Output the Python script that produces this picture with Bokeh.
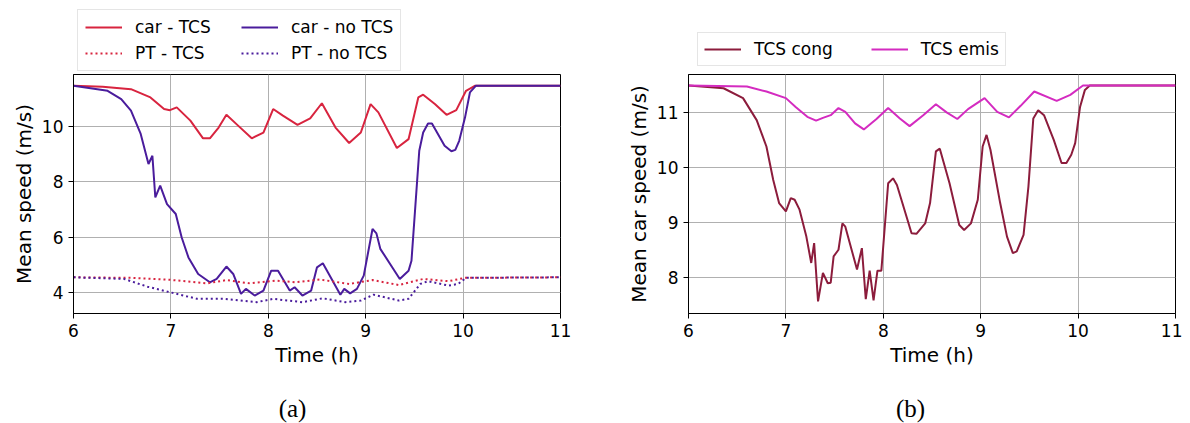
from bokeh.plotting import figure
from bokeh.models import Legend, LegendItem, Range1d, FixedTicker, Label
from bokeh.layouts import row, column
from bokeh.embed import file_html
from bokeh.resources import INLINE

# ---------------- data ----------------
car_tcs_t = [6.0, 6.3, 6.59, 6.79, 6.93, 6.99, 7.06, 7.20, 7.33, 7.40, 7.49, 7.57, 7.69, 7.83, 7.95,
             8.05, 8.15, 8.30, 8.43, 8.55, 8.69, 8.83, 8.95, 9.05, 9.13, 9.32, 9.44, 9.54, 9.59, 9.71,
             9.83, 9.93, 10.03, 10.12, 11.0]
car_tcs_v = [11.48, 11.45, 11.36, 11.06, 10.64, 10.6, 10.70, 10.22, 9.58, 9.58, 9.97, 10.43, 10.04, 9.58, 9.79,
             10.64, 10.40, 10.07, 10.30, 10.85, 9.97, 9.41, 9.79, 10.82, 10.52, 9.23, 9.55, 11.06, 11.16, 10.82,
             10.43, 10.60, 11.30, 11.48, 11.48]

car_notcs_t = [6.0, 6.35, 6.49, 6.59, 6.69, 6.77, 6.81, 6.84, 6.89, 6.96, 7.05, 7.11, 7.18, 7.28, 7.40,
               7.47, 7.57, 7.64, 7.72, 7.77, 7.86, 7.95, 8.03, 8.10, 8.22, 8.27, 8.35, 8.44, 8.50, 8.56,
               8.74, 8.78, 8.84, 8.91, 8.98, 9.07, 9.11, 9.15, 9.35, 9.44, 9.47, 9.55, 9.59, 9.64, 9.68,
               9.81, 9.88, 9.92, 9.96, 10.02, 10.07, 10.13, 11.0]
car_notcs_v = [11.48, 11.30, 11.0, 10.58, 9.74, 8.65, 8.95, 7.44, 7.87, 7.20, 6.84, 6.0, 5.27, 4.67, 4.37,
               4.49, 4.94, 4.67, 3.95, 4.13, 3.89, 4.07, 4.79, 4.79, 4.07, 4.19, 3.89, 4.07, 4.91, 5.06,
               3.92, 4.13, 3.97, 4.13, 4.61, 6.30, 6.14, 5.58, 4.49, 4.79, 5.15, 9.13, 9.79, 10.12, 10.12,
               9.31, 9.11, 9.16, 9.49, 10.34, 11.24, 11.48, 11.48]

pt_tcs_t = [6.0, 6.59, 6.99, 7.37, 7.57, 7.81, 8.08, 8.28, 8.53, 8.83, 9.07, 9.34, 9.59, 9.85, 10.02, 11.0]
pt_tcs_v = [4.55, 4.53, 4.46, 4.33, 4.45, 4.33, 4.43, 4.37, 4.47, 4.31, 4.45, 4.27, 4.49, 4.41, 4.53, 4.55]

pt_notcs_t = [6.0, 6.52, 6.76, 6.99, 7.27, 7.54, 7.88, 8.05, 8.35, 8.56, 8.79, 8.95, 9.08, 9.34, 9.44,
              9.56, 9.64, 9.85, 9.95, 10.03, 11.0]
pt_notcs_v = [4.55, 4.49, 4.21, 4.01, 3.77, 3.77, 3.65, 3.77, 3.65, 3.79, 3.65, 3.71, 3.92, 3.71, 3.77,
              4.31, 4.41, 4.25, 4.31, 4.53, 4.55]

cong_t = [6.0, 6.36, 6.56, 6.70, 6.80, 6.87, 6.93, 7.00, 7.05, 7.09, 7.14, 7.21, 7.26, 7.29, 7.33, 7.38,
          7.43, 7.46, 7.49, 7.54, 7.58, 7.61, 7.73, 7.78, 7.82, 7.86, 7.90, 7.94, 7.98, 8.05, 8.10, 8.14,
          8.29, 8.34, 8.43, 8.48, 8.54, 8.58, 8.68, 8.78, 8.83, 8.90, 8.97, 9.02, 9.06, 9.10, 9.20, 9.27,
          9.33, 9.37, 9.44, 9.49, 9.54, 9.59, 9.65, 9.75, 9.83, 9.88, 9.93, 9.97, 10.02, 10.07, 10.12, 11.0]
cong_v = [11.5, 11.45, 11.27, 10.87, 10.39, 9.78, 9.36, 9.21, 9.45, 9.42, 9.24, 8.75, 8.27, 8.63, 7.57, 8.09,
          7.90, 7.91, 8.39, 8.51, 8.99, 8.93, 8.15, 8.54, 7.61, 8.13, 7.59, 8.13, 8.13, 9.72, 9.81, 9.69,
          8.81, 8.80, 8.99, 9.36, 10.30, 10.35, 9.72, 8.96, 8.87, 8.99, 9.42, 10.39, 10.60, 10.33, 9.36, 8.75,
          8.45, 8.48, 8.78, 9.66, 10.90, 11.05, 10.96, 10.51, 10.09, 10.09, 10.24, 10.45, 11.11, 11.42, 11.5, 11.5]

emis_t = [6.0, 6.60, 6.80, 7.00, 7.10, 7.22, 7.31, 7.38, 7.46, 7.54, 7.61, 7.71, 7.80, 7.93, 8.05, 8.17,
          8.27, 8.41, 8.54, 8.65, 8.76, 8.87, 9.04, 9.17, 9.29, 9.41, 9.55, 9.78, 9.92, 10.05, 11.0]
emis_v = [11.5, 11.48, 11.39, 11.27, 11.11, 10.93, 10.86, 10.91, 10.96, 11.09, 11.02, 10.81, 10.70, 10.89,
          11.09, 10.90, 10.76, 10.96, 11.16, 11.01, 10.89, 11.07, 11.27, 11.02, 10.92, 11.13, 11.39, 11.22,
          11.33, 11.5, 11.5]

x_ticks = [6, 7, 8, 9, 10, 11]
left_y_ticks = [4, 6, 8, 10]
right_y_ticks = [8, 9, 10, 11]

labels_a = ["car - TCS", "PT - TCS", "car - no TCS", "PT - no TCS"]
labels_b = ["TCS cong", "TCS emis"]
captions = ["(a)", "(b)"]

# ---------------- styling ----------------
FONT = "DejaVu Sans"
RED = "#d8243f"
PURPLE = "#4a1c9c"
CONG = "#8c1c3c"
EMIS = "#d42bc0"
W_A, W_B = 592, 582


def style(p, yticks):
    p.xaxis.ticker = FixedTicker(ticks=x_ticks)
    p.yaxis.ticker = FixedTicker(ticks=yticks)
    for ax in (p.xaxis[0], p.yaxis[0]):
        ax.major_label_text_font = FONT
        ax.major_label_text_font_size = "17px"
        ax.major_label_text_color = "black"
        ax.axis_label_text_font = FONT
        ax.axis_label_text_font_size = "20px"
        ax.axis_label_text_font_style = "normal"
        ax.axis_label_text_color = "black"
        ax.axis_line_color = "black"
        ax.major_tick_line_color = "black"
        ax.major_tick_out = 5
        ax.major_tick_in = 0
        ax.minor_tick_line_color = None
        ax.major_label_standoff = 5
        ax.axis_label_standoff = 3
    p.grid.grid_line_color = "#b0b0b0"
    p.grid.grid_line_width = 1
    p.outline_line_color = "black"
    p.outline_line_width = 1
    p.background_fill_color = "white"
    p.border_fill_color = "white"


def bare(width, height):
    f = figure(width=width, height=height, x_range=Range1d(0, 1), y_range=Range1d(0, 1),
               x_axis_type=None, y_axis_type=None, output_backend="svg", toolbar_location=None,
               min_border=0, min_border_left=0, min_border_right=0, min_border_top=0, min_border_bottom=0)
    f.grid.visible = False
    f.outline_line_color = None
    f.background_fill_color = "white"
    f.border_fill_color = "white"
    return f


def style_legend(leg):
    leg.border_line_color = "#cccccc"
    leg.border_line_width = 1
    leg.background_fill_alpha = 0.8
    leg.label_text_font = FONT
    leg.label_text_font_size = "17px"
    leg.label_text_color = "black"
    leg.glyph_width = 37
    leg.glyph_height = 20
    leg.label_height = 20
    leg.label_standoff = 13
    leg.margin = 0


def caption_fig(width, text, cx):
    f = bare(width, 33)
    f.add_layout(Label(x=cx, y=15, x_units="screen", y_units="screen", text=text,
                       text_align="center", text_baseline="middle",
                       text_font="Liberation Serif", text_font_size="25px", text_color="black"))
    return f


# ---------------- figure (a) ----------------
pa = figure(width=W_A, height=316, x_range=Range1d(6, 11), y_range=Range1d(3.24, 11.89),
            output_backend="svg", toolbar_location=None,
            min_border_left=61, min_border_right=40, min_border_top=0, min_border_bottom=77,
            x_axis_label="Time (h)", y_axis_label="Mean speed (m/s)")
style(pa, left_y_ticks)
pa.line(car_tcs_t, car_tcs_v, line_color=RED, line_width=2)
pa.line(car_notcs_t, car_notcs_v, line_color=PURPLE, line_width=2)
pa.line(pt_tcs_t, pt_tcs_v, line_color=RED, line_width=2, line_dash="2 3")
pa.line(pt_notcs_t, pt_notcs_v, line_color=PURPLE, line_width=2, line_dash="2 3")

# legend panel (a): same series drawn out of view, only their legend entries show
la = bare(W_A, 66)
ka1 = la.line(car_tcs_t, car_tcs_v, line_color=RED, line_width=2)
ka2 = la.line(pt_tcs_t, pt_tcs_v, line_color=RED, line_width=2, line_dash="2 3")
ka3 = la.line(car_notcs_t, car_notcs_v, line_color=PURPLE, line_width=2)
ka4 = la.line(pt_notcs_t, pt_notcs_v, line_color=PURPLE, line_width=2, line_dash="2 3")
leg_a = Legend(items=[LegendItem(label=labels_a[0], renderers=[ka1]),
                      LegendItem(label=labels_a[1], renderers=[ka2]),
                      LegendItem(label=labels_a[2], renderers=[ka3]),
                      LegendItem(label=labels_a[3], renderers=[ka4])],
               location=(69, 3), orientation="vertical", nrows=2)
style_legend(leg_a)
leg_a.padding = 7
leg_a.spacing = 6
leg_a.label_width = 100
la.add_layout(leg_a)

# ---------------- figure (b) ----------------
pb = figure(width=W_B, height=316, x_range=Range1d(6, 11), y_range=Range1d(7.35, 11.70),
            output_backend="svg", toolbar_location=None,
            min_border_left=88, min_border_right=7, min_border_top=0, min_border_bottom=77,
            x_axis_label="Time (h)", y_axis_label="Mean car speed (m/s)")
style(pb, right_y_ticks)
pb.line(cong_t, cong_v, line_color=CONG, line_width=2)
pb.line(emis_t, emis_v, line_color=EMIS, line_width=2)

lb = bare(W_B, 66)
kb1 = lb.line(cong_t, cong_v, line_color=CONG, line_width=2)
kb2 = lb.line(emis_t, emis_v, line_color=EMIS, line_width=2)
leg_b = Legend(items=[LegendItem(label=labels_b[0], renderers=[kb1]),
                      LegendItem(label=labels_b[1], renderers=[kb2])],
               location=(97, 8), orientation="horizontal")
style_legend(leg_b)
leg_b.padding = 6
leg_b.spacing = 38
lb.add_layout(leg_b)

ca = caption_fig(W_A, captions[0], 284)
cb = caption_fig(W_B, captions[1], 310)

layout = column(row(la, lb), row(pa, pb), row(ca, cb), margin=(8, 0, 0, 8))
open("out.html", "w").write(file_html(layout, INLINE))
